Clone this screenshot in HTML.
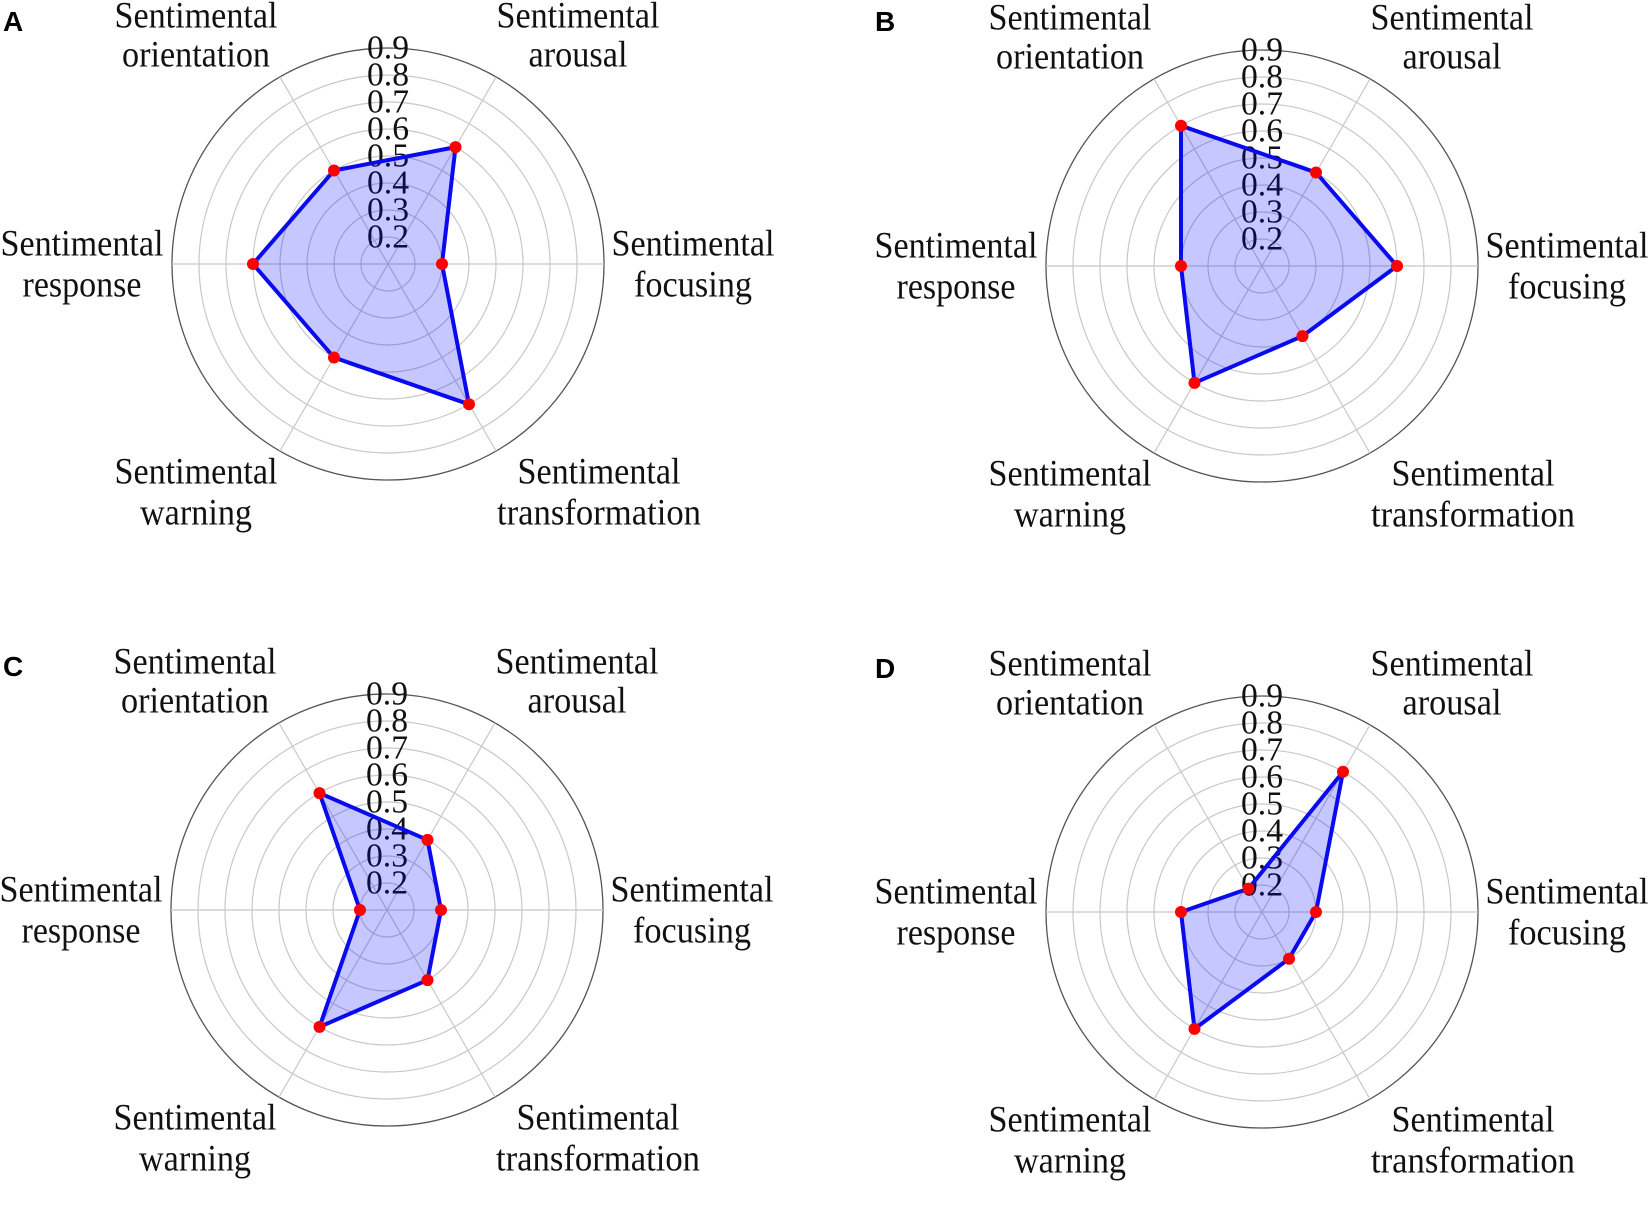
<!DOCTYPE html>
<html><head><meta charset="utf-8"><style>
html,body{margin:0;padding:0;background:#fff;}
svg{display:block;}
.g circle.r{fill:none;stroke:#c8c8c8;stroke-width:1.2}
.g circle.o{fill:none;stroke:#555;stroke-width:1.3}
.g line{stroke:#c8c8c8;stroke-width:1.2}
.t{font-family:"Liberation Serif",serif;font-size:34px;fill:#111;text-anchor:middle;dominant-baseline:central}
.c{font-family:"Liberation Serif",serif;font-size:37px;fill:#111;text-anchor:middle;dominant-baseline:central}
.p{fill:rgba(0,0,255,0.22);stroke:#0a0aee;stroke-width:4;stroke-linejoin:round}
.d{fill:#f00}
.L{font-family:"Liberation Sans",sans-serif;font-weight:bold;font-size:28px;fill:#000}
</style></head><body>
<svg width="1650" height="1221" viewBox="0 0 1650 1221" xmlns="http://www.w3.org/2000/svg">
<defs>
<g id="grid" class="g">
<circle class="r" r="27"/><circle class="r" r="54"/><circle class="r" r="81"/><circle class="r" r="108"/>
<circle class="r" r="135"/><circle class="r" r="162"/><circle class="r" r="189"/><circle class="o" r="216"/>
<line x1="-216" y1="0" x2="216" y2="0"/><line x1="108" y1="-187.06" x2="-108" y2="187.06"/><line x1="-108" y1="-187.06" x2="108" y2="187.06"/>
</g>
<g id="ticks">
<text class="t" x="0" y="-27" textLength="42" lengthAdjust="spacingAndGlyphs">0.2</text><text class="t" x="0" y="-54" textLength="42" lengthAdjust="spacingAndGlyphs">0.3</text><text class="t" x="0" y="-81" textLength="42" lengthAdjust="spacingAndGlyphs">0.4</text><text class="t" x="0" y="-108" textLength="42" lengthAdjust="spacingAndGlyphs">0.5</text><text class="t" x="0" y="-135" textLength="42" lengthAdjust="spacingAndGlyphs">0.6</text><text class="t" x="0" y="-162" textLength="42" lengthAdjust="spacingAndGlyphs">0.7</text><text class="t" x="0" y="-189" textLength="42" lengthAdjust="spacingAndGlyphs">0.8</text><text class="t" x="0" y="-216" textLength="42" lengthAdjust="spacingAndGlyphs">0.9</text>
</g>
</defs>

<!-- Panel A -->
<text class="L" x="3" y="31">A</text>
<g transform="translate(388,264)">
<use href="#grid"/>
<use href="#ticks"/>
<polygon class="p" points="54,0 67.5,-116.9 -54,-93.5 -135,0 -54,93.5 81,140.3"/>
<circle class="d" cx="54" cy="0" r="6"/><circle class="d" cx="67.5" cy="-116.9" r="6"/><circle class="d" cx="-54" cy="-93.5" r="6"/><circle class="d" cx="-135" cy="0" r="6"/><circle class="d" cx="-54" cy="93.5" r="6"/><circle class="d" cx="81" cy="140.3" r="6"/>
<text class="c" x="-192" y="-248" textLength="163" lengthAdjust="spacingAndGlyphs">Sentimental</text><text class="c" x="-192" y="-209" textLength="148" lengthAdjust="spacingAndGlyphs">orientation</text>
<text class="c" x="190" y="-248" textLength="163" lengthAdjust="spacingAndGlyphs">Sentimental</text><text class="c" x="190" y="-209" textLength="99" lengthAdjust="spacingAndGlyphs">arousal</text>
<text class="c" x="305" y="-20" textLength="163" lengthAdjust="spacingAndGlyphs">Sentimental</text><text class="c" x="305" y="21" textLength="118" lengthAdjust="spacingAndGlyphs">focusing</text>
<text class="c" x="-306" y="-20" textLength="163" lengthAdjust="spacingAndGlyphs">Sentimental</text><text class="c" x="-306" y="21" textLength="119" lengthAdjust="spacingAndGlyphs">response</text>
<text class="c" x="-192" y="208" textLength="163" lengthAdjust="spacingAndGlyphs">Sentimental</text><text class="c" x="-192" y="249" textLength="112" lengthAdjust="spacingAndGlyphs">warning</text>
<text class="c" x="211" y="208" textLength="163" lengthAdjust="spacingAndGlyphs">Sentimental</text><text class="c" x="211" y="249" textLength="204" lengthAdjust="spacingAndGlyphs">transformation</text>
</g>

<!-- Panel B -->
<text class="L" x="875" y="31">B</text>
<g transform="translate(1262,266)">
<use href="#grid"/>
<use href="#ticks"/>
<polygon class="p" points="135,0 54,-93.5 -81,-140.3 -81,0 -67.5,116.9 40.5,70.1"/>
<circle class="d" cx="135" cy="0" r="6"/><circle class="d" cx="54" cy="-93.5" r="6"/><circle class="d" cx="-81" cy="-140.3" r="6"/><circle class="d" cx="-81" cy="0" r="6"/><circle class="d" cx="-67.5" cy="116.9" r="6"/><circle class="d" cx="40.5" cy="70.1" r="6"/>
<text class="c" x="-192" y="-248" textLength="163" lengthAdjust="spacingAndGlyphs">Sentimental</text><text class="c" x="-192" y="-209" textLength="148" lengthAdjust="spacingAndGlyphs">orientation</text>
<text class="c" x="190" y="-248" textLength="163" lengthAdjust="spacingAndGlyphs">Sentimental</text><text class="c" x="190" y="-209" textLength="99" lengthAdjust="spacingAndGlyphs">arousal</text>
<text class="c" x="305" y="-20" textLength="163" lengthAdjust="spacingAndGlyphs">Sentimental</text><text class="c" x="305" y="21" textLength="118" lengthAdjust="spacingAndGlyphs">focusing</text>
<text class="c" x="-306" y="-20" textLength="163" lengthAdjust="spacingAndGlyphs">Sentimental</text><text class="c" x="-306" y="21" textLength="119" lengthAdjust="spacingAndGlyphs">response</text>
<text class="c" x="-192" y="208" textLength="163" lengthAdjust="spacingAndGlyphs">Sentimental</text><text class="c" x="-192" y="249" textLength="112" lengthAdjust="spacingAndGlyphs">warning</text>
<text class="c" x="211" y="208" textLength="163" lengthAdjust="spacingAndGlyphs">Sentimental</text><text class="c" x="211" y="249" textLength="204" lengthAdjust="spacingAndGlyphs">transformation</text>
</g>

<!-- Panel C -->
<text class="L" x="3" y="676">C</text>
<g transform="translate(387,910)">
<use href="#grid"/>
<use href="#ticks"/>
<polygon class="p" points="54,0 40.5,-70.1 -67.5,-116.9 -27,0 -67.5,116.9 40.5,70.1"/>
<circle class="d" cx="54" cy="0" r="6"/><circle class="d" cx="40.5" cy="-70.1" r="6"/><circle class="d" cx="-67.5" cy="-116.9" r="6"/><circle class="d" cx="-27" cy="0" r="6"/><circle class="d" cx="-67.5" cy="116.9" r="6"/><circle class="d" cx="40.5" cy="70.1" r="6"/>
<text class="c" x="-192" y="-248" textLength="163" lengthAdjust="spacingAndGlyphs">Sentimental</text><text class="c" x="-192" y="-209" textLength="148" lengthAdjust="spacingAndGlyphs">orientation</text>
<text class="c" x="190" y="-248" textLength="163" lengthAdjust="spacingAndGlyphs">Sentimental</text><text class="c" x="190" y="-209" textLength="99" lengthAdjust="spacingAndGlyphs">arousal</text>
<text class="c" x="305" y="-20" textLength="163" lengthAdjust="spacingAndGlyphs">Sentimental</text><text class="c" x="305" y="21" textLength="118" lengthAdjust="spacingAndGlyphs">focusing</text>
<text class="c" x="-306" y="-20" textLength="163" lengthAdjust="spacingAndGlyphs">Sentimental</text><text class="c" x="-306" y="21" textLength="119" lengthAdjust="spacingAndGlyphs">response</text>
<text class="c" x="-192" y="208" textLength="163" lengthAdjust="spacingAndGlyphs">Sentimental</text><text class="c" x="-192" y="249" textLength="112" lengthAdjust="spacingAndGlyphs">warning</text>
<text class="c" x="211" y="208" textLength="163" lengthAdjust="spacingAndGlyphs">Sentimental</text><text class="c" x="211" y="249" textLength="204" lengthAdjust="spacingAndGlyphs">transformation</text>
</g>

<!-- Panel D -->
<text class="L" x="875" y="678">D</text>
<g transform="translate(1262,912)">
<use href="#grid"/>
<use href="#ticks"/>
<polygon class="p" points="54,0 81,-140.3 -13.5,-23.4 -81,0 -67.5,116.9 27,46.8"/>
<circle class="d" cx="54" cy="0" r="6"/><circle class="d" cx="81" cy="-140.3" r="6"/><circle class="d" cx="-13.5" cy="-23.4" r="6"/><circle class="d" cx="-81" cy="0" r="6"/><circle class="d" cx="-67.5" cy="116.9" r="6"/><circle class="d" cx="27" cy="46.8" r="6"/>
<text class="c" x="-192" y="-248" textLength="163" lengthAdjust="spacingAndGlyphs">Sentimental</text><text class="c" x="-192" y="-209" textLength="148" lengthAdjust="spacingAndGlyphs">orientation</text>
<text class="c" x="190" y="-248" textLength="163" lengthAdjust="spacingAndGlyphs">Sentimental</text><text class="c" x="190" y="-209" textLength="99" lengthAdjust="spacingAndGlyphs">arousal</text>
<text class="c" x="305" y="-20" textLength="163" lengthAdjust="spacingAndGlyphs">Sentimental</text><text class="c" x="305" y="21" textLength="118" lengthAdjust="spacingAndGlyphs">focusing</text>
<text class="c" x="-306" y="-20" textLength="163" lengthAdjust="spacingAndGlyphs">Sentimental</text><text class="c" x="-306" y="21" textLength="119" lengthAdjust="spacingAndGlyphs">response</text>
<text class="c" x="-192" y="208" textLength="163" lengthAdjust="spacingAndGlyphs">Sentimental</text><text class="c" x="-192" y="249" textLength="112" lengthAdjust="spacingAndGlyphs">warning</text>
<text class="c" x="211" y="208" textLength="163" lengthAdjust="spacingAndGlyphs">Sentimental</text><text class="c" x="211" y="249" textLength="204" lengthAdjust="spacingAndGlyphs">transformation</text>
</g>
</svg>
</body></html>
